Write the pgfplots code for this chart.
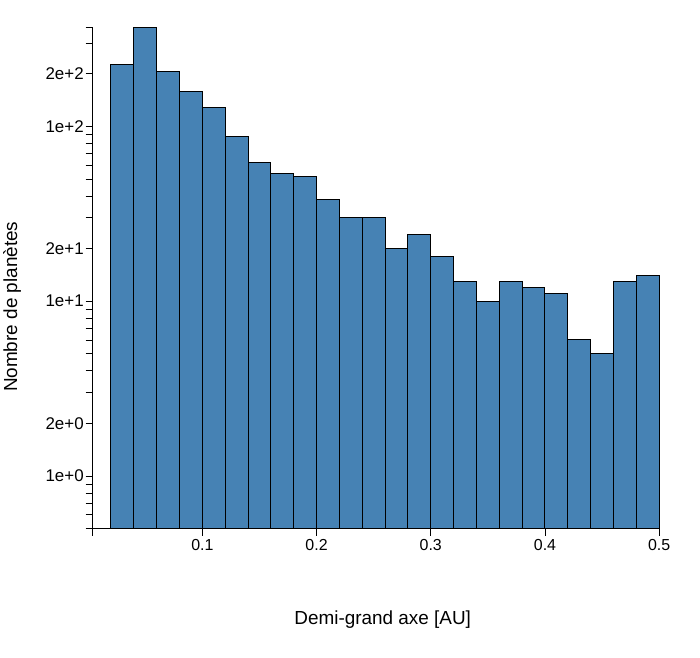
\documentclass[border=0pt]{standalone}
\usepackage{fontspec}
\setmainfont{Liberation Sans}
\usepackage{pgfplots}
\pgfplotsset{compat=1.18}
\definecolor{barblue}{HTML}{4682B4}

% histogram counts, bin edges 0.02 .. 0.50 (last row closes the interval)
\pgfplotstableread{
x     n
0.02  226
0.04  366
0.06  207
0.08  159
0.10  129
0.12  88
0.14  62
0.16  54
0.18  52
0.20  38
0.22  30
0.24  30
0.26  20
0.28  24
0.30  18
0.32  13
0.34  10
0.36  13
0.38  12
0.40  11
0.42  6
0.44  5
0.46  13
0.48  14
0.50  14
}\hist

\begin{document}
\begin{tikzpicture}
\begin{axis}[name=ax,
  scale only axis, width=569pt, height=503pt,
  xmin=0.004, xmax=0.5,
  ymode=log, log origin y=infty, ymin=0.5, ymax=366,
  axis lines*=left, axis line style={-, line width=0.8pt},
  tick align=outside, major tick length=7pt, minor tick length=7pt,
  every tick/.style={black, line width=0.8pt},
  xtick={0.004,0.1,0.2,0.3,0.4,0.5},
  xticklabels={,0.1,0.2,0.3,0.4,0.5},
  ytick={1,2,10,20,100,200},
  yticklabels={1e+0,2e+0,1e+1,2e+1,1e+2,2e+2},
  minor ytick={0.5,0.6,0.7,0.8,0.9,3,4,5,6,7,8,9,30,40,50,60,70,80,90,300,366},
  xticklabel style={font=\fontsize{16}{16}\selectfont},
  yticklabel style={font=\fontsize{17}{17}\selectfont, xshift=1.5pt},
  xlabel={Demi-grand axe [AU]},
  ylabel={Nombre de planètes},
  label style={font=\fontsize{19}{19}\selectfont},
  xlabel style={at={(axis description cs:0.512,-0.181)}, anchor=center},
  ylabel style={at={(axis description cs:-0.142,0.443)}, anchor=center, rotate=0},
  clip=false,
]
\addplot[ybar interval, fill=barblue, draw=black, line width=1pt] table[x=x, y=n] {\hist};
\end{axis}
\path (ax.south west) ++(-90pt,-129pt) rectangle ++(700pt,660pt);
\end{tikzpicture}
\end{document}
